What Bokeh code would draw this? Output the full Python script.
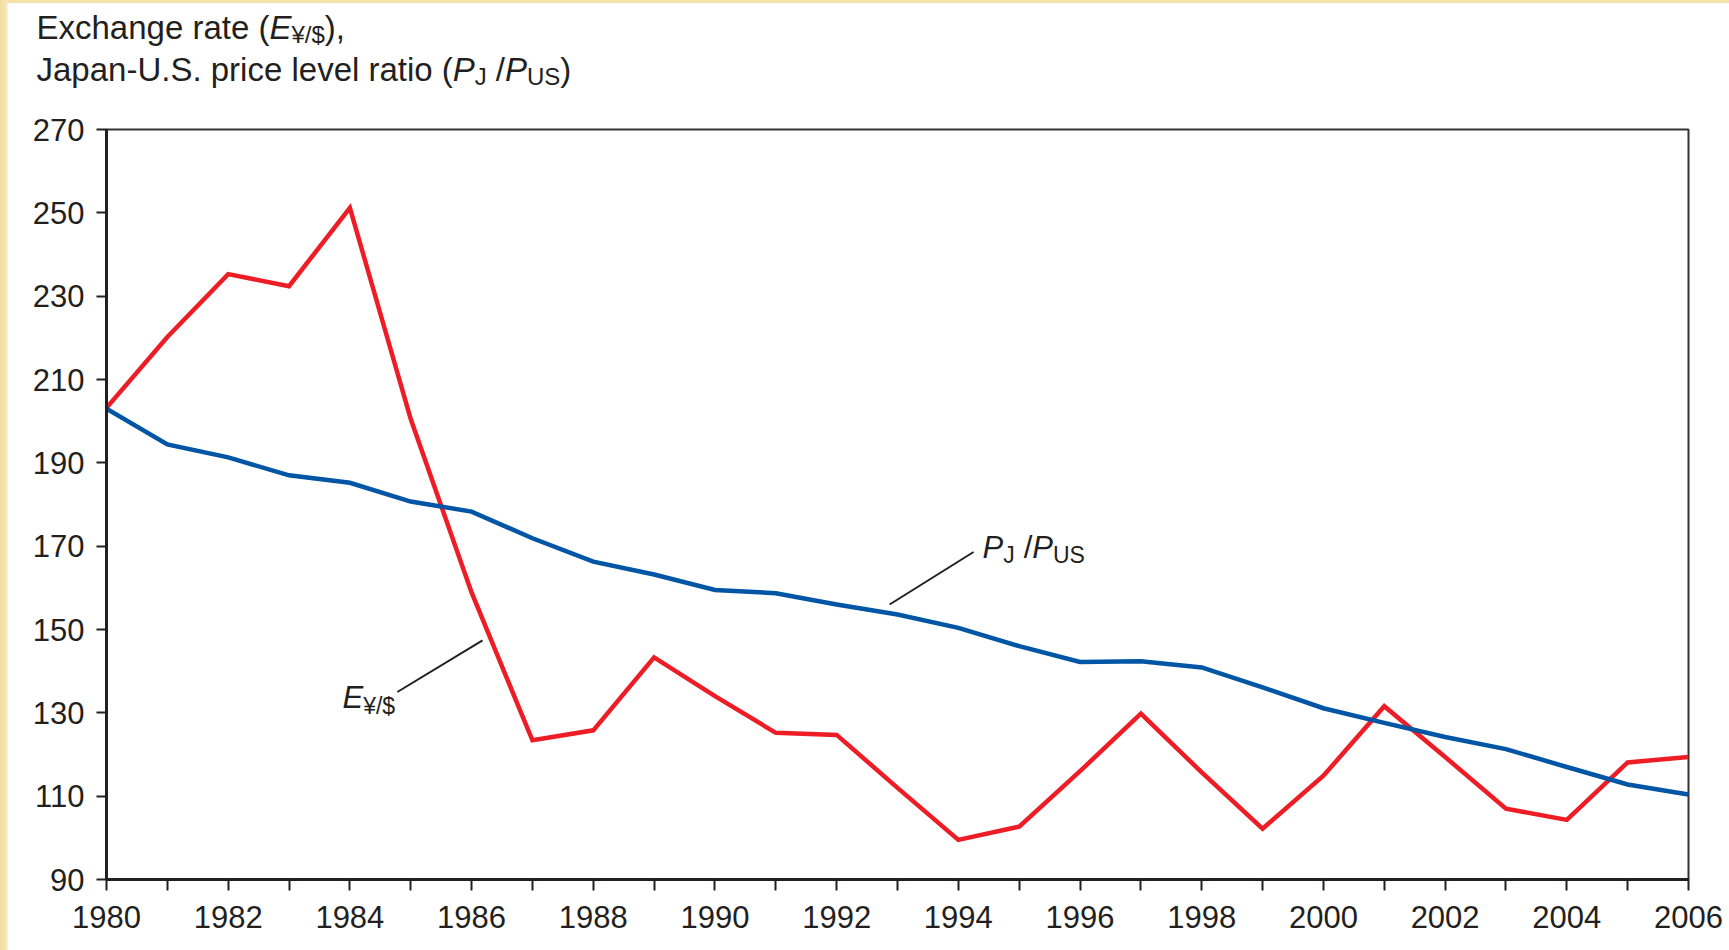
from bokeh.plotting import figure
from bokeh.models import Range1d, FixedTicker, Label, ColumnDataSource
from bokeh.layouts import column
from bokeh.embed import file_html
from bokeh.resources import INLINE

# ---- data ----
years = list(range(1980, 2007))
exchange_rate = [203.2, 220.2, 235.3, 232.4, 251.2, 200.5, 158.9, 123.4, 125.8, 143.3,
                 134.0, 125.2, 124.7, 112.0, 99.5, 102.7, 116.0, 129.8, 115.7, 102.2,
                 114.9, 131.6, 119.4, 107.0, 104.3, 118.1, 119.4]
price_ratio = [203.0, 194.4, 191.3, 187.0, 185.2, 180.7, 178.3, 171.9, 166.3, 163.2,
               159.5, 158.7, 156.0, 153.6, 150.4, 146.0, 142.2, 142.4, 140.9, 136.1,
               131.1, 127.6, 124.2, 121.3, 117.0, 112.8, 110.4]
y_ticks = list(range(90, 271, 20))
x_major = list(range(1980, 2007, 2))
x_minor = list(range(1981, 2006, 2))

FONT = "Liberation Sans"
RED = "#ee1d25"
BLUE = "#0055a5"
INK = "#231f20"

W = 1729
TH = 109                     # height of the heading strip
H = 950 - TH                 # height of the chart figure
BL, BR, BT, BB = 106, 41, 20, 71

ARIAL = {' ': 278, '(': 333, ')': 333, ',': 278, '.': 278, '-': 333, '/': 278, '$': 556,
         '¥': 556, 'E': 667, 'x': 500, 'c': 500, 'h': 556, 'a': 556, 'n': 556, 'g': 556,
         'e': 556, 'r': 333, 't': 278, 'J': 500, 'p': 556, 'U': 722, 'S': 667, 'i': 222,
         'l': 222, 'v': 500, 'o': 556, 'P': 667}


def rich(fig, px, py, pieces, tx, ty):
    """Place mixed-style text; pieces = (text, style, size, baseline shift, gap after)."""
    x = px
    for text, style, size, shift, gap in pieces:
        fig.add_layout(Label(x=tx(x), y=ty(py + shift), text=text, text_font=FONT,
                             text_font_size=f"{size}px", text_font_style=style,
                             text_color=INK, text_align="left", text_baseline="alphabetic"))
        x += sum(ARIAL.get(c, 556) for c in text) / 1000 * size + gap


# ---- heading strip (pixel coordinates) ----
head = figure(width=W, height=TH, output_backend="svg", toolbar_location=None,
              x_range=Range1d(0, W), y_range=Range1d(TH, 0),
              x_axis_type=None, y_axis_type=None, min_border=0,
              background_fill_color=None, border_fill_color=None, outline_line_color=None)
head.frame_align = False
head.grid.visible = False

title1 = [("Exchange rate (", "normal", 33, 0, 0), ("E", "italic", 33, 0, 0),
          ("¥/$", "normal", 24, 7, 0), ("),", "normal", 33, 0, 0)]
title2 = [("Japan-U.S. price level ratio (", "normal", 33, 0, 0), ("P", "italic", 33, 0, 0),
          ("J", "normal", 24, 7, 9), ("/", "normal", 33, 0, 0), ("P", "italic", 33, 0, 0),
          ("US", "normal", 24, 7, 0), (")", "normal", 33, 0, 0)]
rich(head, 36, 27, title1, lambda v: v, lambda v: v)
rich(head, 36, 69, title2, lambda v: v, lambda v: v)

# ---- chart ----
p = figure(width=W, height=H, output_backend="svg", toolbar_location=None,
           x_range=Range1d(1980, 2006), y_range=Range1d(90, 270),
           min_border_left=BL, min_border_right=BR, min_border_top=BT, min_border_bottom=BB,
           background_fill_color="white", border_fill_color=None)
p.frame_align = False
p.grid.visible = False
p.outline_line_color = "#333333"
p.outline_line_width = 2

p.line(years, exchange_rate, line_color=RED, line_width=4.5, line_join="miter")
p.line(years, price_ratio, line_color=BLUE, line_width=4.5, line_join="miter")

for ax in (p.xaxis[0], p.yaxis[0]):
    ax.axis_line_color = INK
    ax.axis_line_width = 3
    ax.major_tick_line_color = INK
    ax.major_tick_line_width = 2
    ax.minor_tick_line_color = INK
    ax.minor_tick_line_width = 2
    ax.major_tick_in = 0
    ax.minor_tick_in = 0
    ax.major_label_text_font = FONT
    ax.major_label_text_font_size = "31px"
    ax.major_label_text_color = INK

p.yaxis[0].ticker = FixedTicker(ticks=y_ticks)
p.yaxis[0].major_tick_out = 10
p.yaxis[0].minor_tick_out = 0
p.yaxis[0].major_label_standoff = 12

p.xaxis[0].ticker = FixedTicker(ticks=x_major, minor_ticks=x_minor)
p.xaxis[0].major_tick_out = 11
p.xaxis[0].minor_tick_out = 11
p.xaxis[0].major_label_standoff = 15

# page-pixel -> data helpers for the in-plot labels
FL, FR = BL, W - BR
FT, FB = TH + BT, TH + H - BB


def dx(px):
    return 1980 + (px - FL) * 26 / (FR - FL)


def dy(py):
    return 270 - (py - FT) * 180 / (FB - FT)


label_e = [("E", "italic", 31, 0, 0), ("¥/$", "normal", 23, 8, 0)]
label_p = [("P", "italic", 31, 0, 0), ("J", "normal", 23, 7, 9), ("/", "normal", 31, 0, 0),
           ("P", "italic", 31, 0, 0), ("US", "normal", 23, 7, 0)]
rich(p, 342, 697, label_e, dx, dy)
rich(p, 982, 547, label_p, dx, dy)

leaders = ColumnDataSource(dict(x0=[1984.78, 1992.87], y0=[135.0, 156.0],
                                x1=[1986.18, 1994.25], y1=[147.4, 168.6]))
p.segment("x0", "y0", "x1", "y1", source=leaders, line_color=INK, line_width=2)

layout = column(head, p, spacing=0)
html = file_html(layout, INLINE)
style = ("<style>html, body { background: linear-gradient(to right, #f0dc9e 0px, #f6e8bb 7px, "
         "rgba(255,255,255,0) 8px), linear-gradient(to bottom, #f3e2a8 0px, #f3e2a8 3px, "
         "rgba(255,255,255,0) 3px), #ffffff !important; }</style></head>")
html = html.replace("</head>", style, 1)
open("out.html", "w").write(html)
